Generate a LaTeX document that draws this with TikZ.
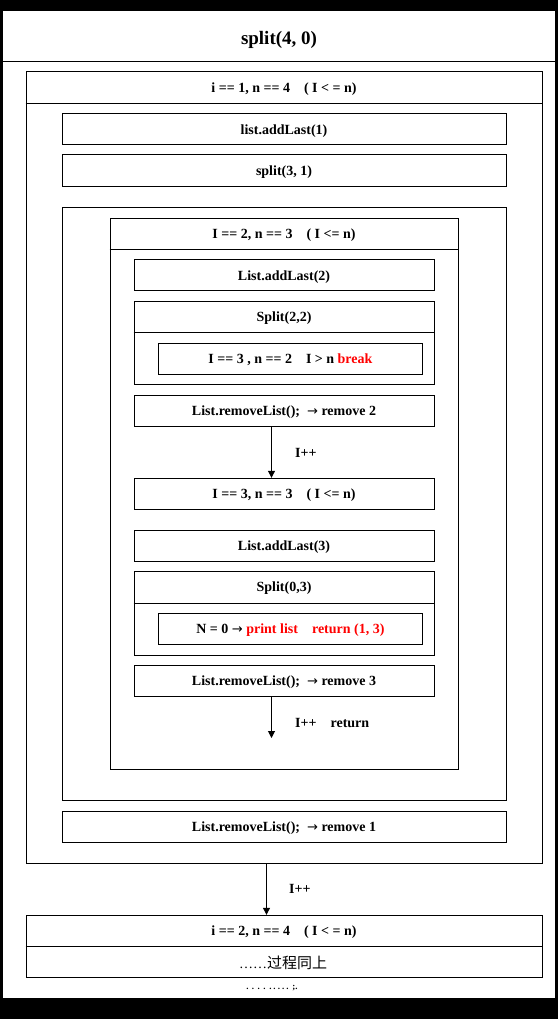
\documentclass[tikz,border=0pt]{standalone}
\usepackage{fontspec}
\setmainfont{Liberation Serif}
\newfontfamily\cjkfont{Noto Sans CJK SC}
\newfontfamily\arrowfont{DejaVu Sans}
\newcommand{\rarr}{{\arrowfont\fontsize{13}{16}\selectfont\mdseries →}}
\usetikzlibrary{arrows.meta}
\begin{document}
\begin{tikzpicture}[x=1pt,y=-1pt,
  bx/.style={draw=black, line width=1pt, inner sep=0pt, text depth=0pt, font=\fontsize{14}{16}\selectfont\bfseries},
  lbl/.style={inner sep=0pt, text depth=0pt, font=\fontsize{14}{16}\selectfont\bfseries},
  sep/.style={draw=black, line width=1pt},
  arr/.style={draw=black, line width=1pt, -{Triangle[width=7pt,length=7pt]}}]
\fill[black] (0,0) rectangle (558,1019);
\fill[white] (3,11) rectangle (555,998);
\useasboundingbox (0,0) rectangle (558,1019);
% title
\node[lbl, font=\fontsize{19}{22}\selectfont\bfseries] (title) at (279,38) {split(4, 0)};
\draw[sep] (3,62) -- (555,62);
% outer box i==1
\node[bx, minimum width=516pt, minimum height=791pt] (outer1) at (284,467.5) {};
\draw[sep] (outer1.west |- 0,104) -- (outer1.east |- 0,104);
\node[lbl] (h1) at (284,88) {i == 1, n == 4\quad ( I < = n)};
\node[bx, minimum width=444pt, minimum height=31pt] (add1) at (284,129.5) {list.addLast(1)};
\node[bx, minimum width=444pt, minimum height=32pt] (sp31) at (284,171) {split(3, 1)};
\node[bx, minimum width=444pt, minimum height=593pt] (big) at (284,503.5) {};
% box I==2
\node[bx, minimum width=348pt, minimum height=551pt] (box2) at (284,493.5) {};
\draw[sep] (box2.west |- 0,249.5) -- (box2.east |- 0,249.5);
\node[lbl] (h2) at (284,234) {I == 2, n == 3\quad ( I <= n)};
\node[bx, minimum width=300pt, minimum height=31.3pt] (add2) at (284,275.3) {List.addLast(2)};
\node[bx, minimum width=300pt, minimum height=82.6pt] (sp22) at (284,343) {};
\draw[sep] (sp22.west |- 0,332.3) -- (sp22.east |- 0,332.3);
\node[lbl] (h22) at (284,317) {Split(2,2)};
\node[bx, minimum width=264pt, minimum height=31pt] (brk) at (290.4,358.8) {I == 3 , n == 2\quad I > n \textcolor{red}{break}};
\node[bx, minimum width=300pt, minimum height=30.6pt] (rm2) at (284,411) {List.removeList();\ \ \rarr\ remove 2};
\coordinate (ax) at (271.5,0);
\node[bx, minimum width=300pt, minimum height=31pt] (i3) at (284,493.8) {I == 3, n == 3\quad ( I <= n)};
\draw[arr] (rm2.south -| ax) -- (i3.north -| ax);
\node[lbl, anchor=west] (l1) at (295,453) {I++};
\node[bx, minimum width=300pt, minimum height=31pt] (add3) at (284,545.8) {List.addLast(3)};
\node[bx, minimum width=300pt, minimum height=83.6pt] (sp03) at (284,613.5) {};
\draw[sep] (sp03.west |- 0,603) -- (sp03.east |- 0,603);
\node[lbl] (h03) at (284,587) {Split(0,3)};
\node[bx, minimum width=264pt, minimum height=31pt] (n0) at (290.4,628.8) {N = 0 \rarr\ \textcolor{red}{print list\quad return (1, 3)}};
\node[bx, minimum width=300pt, minimum height=30.6pt] (rm3) at (284,681) {List.removeList();\ \ \rarr\ remove 3};
\coordinate (end3) at (271.5,738);
\draw[arr] (rm3.south -| ax) -- (end3);
\node[lbl, anchor=west] (l2) at (295,723) {I++\quad return};
% remove 1
\node[bx, minimum width=444pt, minimum height=30.7pt] (rm1) at (284,826.7) {List.removeList();\ \ \rarr\ remove 1};
% bottom box
\node[bx, minimum width=516pt, minimum height=62pt] (outer2) at (284,946.3) {};
\draw[sep] (outer2.west) -- (outer2.east);
\node[lbl] (h4) at (284,931) {i == 2, n == 4\quad ( I < = n)};
\node[lbl, font=\fontsize{14}{16}\selectfont\mdseries] (same) at (283,962) {……{\cjkfont\fontsize{15}{16}\selectfont 过程同上}};
\coordinate (bx2) at (266.5,0);
\draw[arr] (outer1.south -| bx2) -- (outer2.north -| bx2);
\node[lbl, anchor=west] (l3) at (289,889) {I++};
\node[inner sep=0pt, font=\fontsize{9}{9}\selectfont\bfseries] (dots) at (272,988) {.\hspace{3.5pt}.\hspace{3.5pt}.\hspace{3.5pt}.\hspace{3.5pt}.\hspace{2pt}.\hspace{2pt}.\hspace{2pt}.\hspace{2pt}.\hspace{4pt};.};
\end{tikzpicture}
\end{document}
